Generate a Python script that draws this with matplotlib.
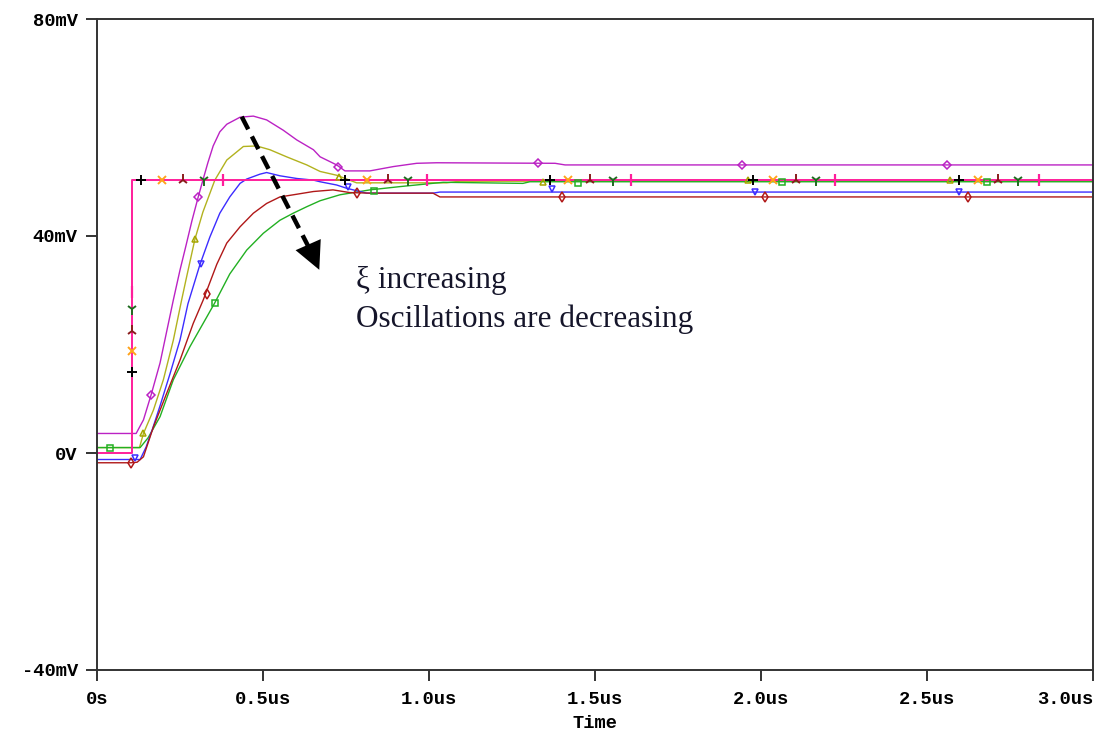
import numpy as np
import matplotlib
matplotlib.use('Agg')
import matplotlib.pyplot as plt

# ---- data (time in us, voltage in mV) ----
step_t = [0.0, 0.105, 0.105, 3.0]
step_v = [0.0, 0.0, 50.3, 50.3]

purple_t = [0.0, 0.117, 0.139, 0.162, 0.189, 0.210, 0.229, 0.249, 0.267, 0.285, 0.304,
            0.319, 0.333, 0.349, 0.369, 0.390, 0.430, 0.470, 0.510, 0.560, 0.601, 0.651,
            0.671, 0.721, 0.746, 0.821, 0.892, 0.962, 1.022, 1.379, 1.409, 3.0]
purple_v = [3.6, 3.6, 6.1, 10.7, 16.6, 22.7, 28.2, 33.7, 38.2, 42.8, 47.2,
            50.5, 53.5, 56.6, 59.2, 60.6, 61.9, 62.1, 61.4, 59.5, 57.7, 55.9,
            54.6, 53.1, 52.0, 52.0, 52.8, 53.4, 53.5, 53.4, 53.1, 53.1]

olive_t = [0.0, 0.127, 0.139, 0.169, 0.199, 0.229, 0.254, 0.267, 0.294, 0.318, 0.354,
           0.390, 0.440, 0.480, 0.520, 0.570, 0.631, 0.671, 0.721, 0.781, 1.052, 1.092, 3.0]
olive_v = [1.0, 1.0, 3.6, 7.9, 13.5, 20.8, 28.2, 31.9, 39.4, 44.4, 50.3,
           54.0, 56.5, 56.6, 55.9, 54.6, 53.1, 51.9, 51.2, 49.8, 49.8, 50.1, 50.1]

blue_t = [0.0, 0.129, 0.147, 0.165, 0.189, 0.219, 0.249, 0.273, 0.309, 0.339, 0.369,
          0.399, 0.430, 0.450, 0.490, 0.510, 0.550, 0.601, 0.651, 0.671, 0.721, 0.751,
          0.811, 1.011, 1.032, 3.0]
blue_v = [-1.2, -1.2, 1.1, 4.2, 8.7, 14.6, 20.8, 27.5, 34.7, 39.8, 44.2,
          47.2, 49.7, 50.5, 51.4, 51.7, 51.1, 50.6, 50.3, 50.0, 49.4, 48.8,
          47.9, 47.9, 48.1, 48.1]

red_t = [0.0, 0.102, 0.120, 0.139, 0.169, 0.209, 0.249, 0.289, 0.319, 0.360, 0.390,
         0.430, 0.470, 0.510, 0.550, 0.601, 0.651, 0.710, 0.761, 0.821, 1.011, 1.032, 3.0]
red_v = [-1.8, -1.8, -1.7, -0.7, 4.8, 11.0, 17.1, 23.9, 28.2, 34.8, 38.7,
         41.7, 44.2, 46.0, 47.2, 47.7, 48.2, 48.5, 48.0, 47.9, 47.9, 47.2, 47.2]

green_t = [0.0, 0.129, 0.153, 0.189, 0.229, 0.279, 0.330, 0.354, 0.399, 0.450, 0.500,
           0.550, 0.590, 0.631, 0.671, 0.731, 0.821, 0.911, 1.042, 1.282, 1.303, 3.0]
green_v = [1.0, 1.0, 2.8, 6.7, 13.5, 19.6, 25.1, 27.7, 33.0, 37.4, 40.5,
           42.9, 44.2, 45.4, 46.5, 47.6, 48.5, 49.1, 49.9, 49.7, 50.0, 50.0]

# trace markers (PSpice symbols)
purple_mk_t = [0.162, 0.304, 0.725, 1.327, 1.941, 2.558]
purple_mk_v = [10.7, 47.2, 52.8, 53.4, 53.1, 53.1]
olive_mk_t = [0.139, 0.294, 0.728, 1.342, 1.960, 2.569]
olive_mk_v = [3.6, 39.4, 50.9, 50.0, 50.3, 50.3]
blue_mk_t = [0.114, 0.312, 0.755, 1.369, 1.981, 2.596]
blue_mk_v = [-0.9, 34.9, 49.1, 48.7, 48.2, 48.2]
red_mk_t = [0.101, 0.330, 0.781, 1.400, 2.011, 2.623]
red_mk_v = [-1.8, 29.4, 47.9, 47.2, 47.2, 47.2]
green_mk_t = [0.038, 0.355, 0.833, 1.448, 2.061, 2.679]
green_mk_v = [1.0, 27.7, 48.3, 49.8, 49.9, 49.9]

in_black_t = [0.105, 0.131, 0.746, 1.363, 1.976, 2.594]
in_black_v = [15.0, 50.3, 50.3, 50.3, 50.3, 50.3]
in_orange_t = [0.105, 0.194, 0.811, 1.418, 2.035, 2.653]
in_orange_v = [18.8, 50.3, 50.3, 50.3, 50.3, 50.3]
in_lambda_t = [0.105, 0.257, 0.876, 1.484, 2.104, 2.713]
in_lambda_v = [22.4, 50.3, 50.3, 50.3, 50.3, 50.3]
in_y_t = [0.105, 0.322, 0.935, 1.553, 2.164, 2.773]
in_y_v = [26.5, 50.3, 50.3, 50.3, 50.3, 50.3]
in_pink_t = [0.105, 0.378, 0.992, 1.607, 2.221, 2.836]
in_pink_v = [29.7, 50.3, 50.3, 50.3, 50.3, 50.3]

x_ticks = [0, 0.5, 1.0, 1.5, 2.0, 2.5, 3.0]
x_labels = ['0s', '0.5us', '1.0us', '1.5us', '2.0us', '2.5us', '3.0us']
y_ticks = [-40, 0, 40, 80]
y_labels = ['-40mV', '0V', '40mV', '80mV']

# ---- figure ----
W, H = 1097, 736
fig = plt.figure(figsize=(W / 100, H / 100), dpi=100)
ax = fig.add_axes([97.3 / W, 1 - 670 / H, 996 / W, 651 / H])

lw = 1.0
ax.plot(purple_t, purple_v, color='#bb22c4', lw=lw)
ax.plot(olive_t, olive_v, color='#b2b21e', lw=lw)
ax.plot(green_t, green_v, color='#22b022', lw=lw)
ax.plot(blue_t, blue_v, color='#3c2cff', lw=lw)
ax.plot(red_t, red_v, color='#b01818', lw=lw)
ax.plot(step_t, step_v, color='#ff1e9b', lw=1.4)

mk = dict(ls='none', ms=5, mew=1.1)
ax.plot(purple_mk_t, purple_mk_v, marker='D', mfc='none', mec='#bb22c4', ms=4, mew=1.1, ls='none')
ax.plot(olive_mk_t, olive_mk_v, marker='^', mfc='none', mec='#a6a600', **mk)
ax.plot(blue_mk_t, blue_mk_v, marker='v', mfc='none', mec='#3c2cff', **mk)
ax.plot(red_mk_t, red_mk_v, marker='d', mfc='none', mec='#b01818', **mk)
ax.plot(green_mk_t, green_mk_v, marker='s', mfc='none', mec='#22b022', **mk)

ax.plot(in_black_t, in_black_v, marker='+', color='black', ms=7, mew=1.4, ls='none')
ax.plot(in_orange_t, in_orange_v, marker='x', color='#ffa31a', ms=6, mew=1.4, ls='none')
ax.plot(in_lambda_t, in_lambda_v, marker='2', color='#8a1c1c', ms=8, mew=1.4, ls='none')
ax.plot(in_y_t, in_y_v, marker='1', color='#1f6b1f', ms=8, mew=1.4, ls='none')
ax.plot(in_pink_t, in_pink_v, marker='|', color='#ff1e9b', ms=8, mew=1.6, ls='none')

# dashed arrow: damping ratio going up
ax.plot([0.435, 0.648], [62.0, 36.6], color='black', lw=3.2, ls=(0, (3.2, 1.8)),
        solid_capstyle='butt', dash_capstyle='butt')
ax.annotate('', xy=(0.672, 33.3), xytext=(0.646, 36.9),
            arrowprops=dict(arrowstyle='-|>,head_length=0.9,head_width=0.45',
                            color='black', lw=0, mutation_scale=22))

txt_font = dict(family=['Liberation Serif', 'DejaVu Serif'], fontsize=22.5, color='#15152a')
ax.text(0.779, 30.4, '\u03be increasing', va='baseline', ha='left', **txt_font)
ax.text(0.779, 23.3, 'Oscillations are decreasing', va='baseline', ha='left', **txt_font)

ax.set_xlim(0, 3.0)
ax.set_ylim(-40, 80)

tick_font = dict(family=['Liberation Mono', 'DejaVu Sans Mono'], fontsize=13.5, fontweight='bold')
ax.set_xticks(x_ticks)
ax.set_xticklabels(x_labels, **tick_font)
ax.set_yticks(y_ticks)
ax.set_yticklabels(y_labels, **tick_font)
ax.get_xticklabels()[-1].set_ha('right')
ax.tick_params(axis='both', direction='out', length=8, width=1.4, color='#333333')
ax.tick_params(axis='x', pad=7)
ax.tick_params(axis='y', pad=6)

for s in ax.spines.values():
    s.set_color('#333333')
    s.set_linewidth(1.4)

fig.text(595 / W, 1 - 724 / H, 'Time', ha='center', va='center', **tick_font)

fig.savefig('out.png', dpi=100)
